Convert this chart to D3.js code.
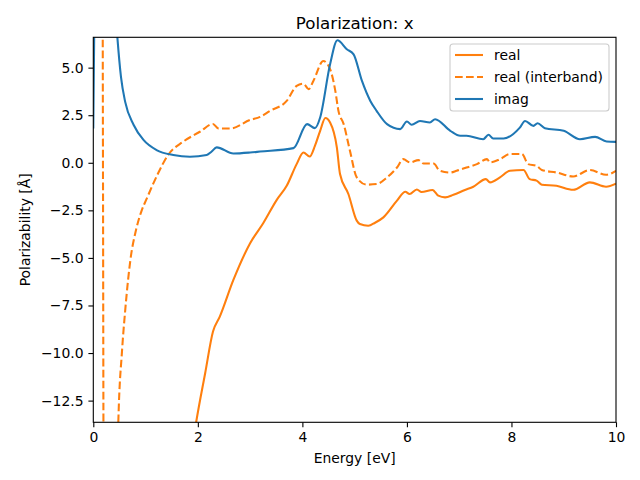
<!DOCTYPE html>
<html>
<head>
<meta charset="utf-8">
<script src="https://cdn.jsdelivr.net/npm/d3@7"></script>
<style>
  html, body { margin: 0; padding: 0; background: #fff; }
  svg { display: block; font-family: "DejaVu Sans", sans-serif; }
</style>
</head>
<body>
<svg id="chart" width="640" height="480"></svg>
<script>
// ---- data ----
const xTicks = [0, 2, 4, 6, 8, 10];
const yTicks = [-12.5, -10.0, -7.5, -5.0, -2.5, 0.0, 2.5, 5.0];
const seriesNames = ["real", "real (interband)", "imag"];

const realE = [1.5, 1.9, 1.97, 2.14, 2.29, 2.42, 2.68, 3.0, 3.25, 3.51, 3.70, 3.89, 4.02, 4.14, 4.24, 4.34, 4.44, 4.53, 4.66, 4.72, 4.88, 5.04, 5.10, 5.26, 5.39, 5.55, 5.81, 5.97, 6.05, 6.19, 6.28, 6.49, 6.60, 6.73, 6.89, 7.11, 7.27, 7.51, 7.59, 7.78, 7.97, 8.23, 8.35, 8.48, 8.58, 8.86, 9.18, 9.50, 9.81, 10.0];
const realV = [-25, -14.8, -13.6, -11.06, -8.87, -8.09, -6.16, -4.23, -3.18, -1.95, -1.21, -0.07, 0.54, 0.33, 0.89, 1.68, 2.35, 2.12, 0.8, -0.59, -1.64, -3.04, -3.22, -3.31, -3.15, -2.87, -1.99, -1.52, -1.64, -1.4, -1.54, -1.43, -1.73, -1.82, -1.68, -1.43, -1.26, -0.86, -1.03, -0.77, -0.42, -0.38, -0.86, -0.94, -1.15, -1.21, -1.42, -1.03, -1.26, -1.1];

const interE = [0.0, 0.17, 0.185, 0.2, 0.3, 0.45, 0.48, 0.55, 0.61, 0.71, 0.82, 0.92, 1.02, 1.24, 1.43, 1.72, 2.04, 2.29, 2.39, 2.62, 3.0, 3.19, 3.38, 3.70, 3.89, 4.02, 4.12, 4.21, 4.40, 4.53, 4.63, 4.69, 4.79, 4.91, 5.04, 5.23, 5.42, 5.62, 5.81, 5.93, 6.06, 6.22, 6.32, 6.51, 6.63, 6.83, 6.95, 7.14, 7.34, 7.53, 7.59, 7.78, 7.97, 8.20, 8.32, 8.48, 8.58, 8.86, 9.18, 9.50, 9.81, 10.0];
const interV = [40, 20, 0, -20, -40, -17, -13.5, -9.87, -7.77, -5.1, -3.5, -2.55, -1.9, -0.55, 0.41, 1.11, 1.63, 2.04, 1.81, 1.8, 2.25, 2.41, 2.73, 3.25, 4.04, 4.16, 3.87, 4.3, 5.35, 4.92, 3.78, 2.73, 2.03, 0.63, -0.77, -1.15, -1.12, -0.77, -0.25, 0.19, 0.02, 0.14, -0.04, -0.04, -0.42, -0.51, -0.42, -0.25, -0.07, 0.19, 0.02, 0.19, 0.46, 0.46, -0.07, -0.16, -0.38, -0.51, -0.72, -0.38, -0.63, -0.42];

const imagE = [0.0, 0.02, 0.1, 0.3, 0.46, 0.53, 0.61, 0.77, 0.96, 1.21, 1.53, 1.85, 2.17, 2.26, 2.36, 2.68, 3.0, 3.19, 3.83, 4.09, 4.24, 4.34, 4.53, 4.67, 4.85, 4.98, 5.14, 5.30, 5.42, 5.62, 5.87, 6.0, 6.09, 6.25, 6.44, 6.54, 6.83, 7.02, 7.14, 7.46, 7.56, 7.65, 7.85, 8.16, 8.26, 8.42, 8.50, 8.64, 9.0, 9.31, 9.60, 9.82, 10.0];
const imagV = [1.8, 7.5, 30, 14, 6.6, 4.5, 3.2, 2.0, 1.2, 0.67, 0.41, 0.32, 0.41, 0.58, 0.81, 0.49, 0.54, 0.59, 0.77, 2.03, 1.82, 2.38, 5.18, 6.44, 5.97, 5.7, 4.3, 3.25, 2.73, 2.03, 1.77, 2.17, 2.0, 2.2, 2.12, 2.29, 1.68, 1.42, 1.42, 1.24, 1.47, 1.28, 1.28, 1.85, 2.2, 1.94, 2.08, 1.82, 1.68, 1.24, 1.36, 1.12, 1.1];

const colors = ["#ff7f0e", "#ff7f0e", "#1f77b4"];
const dashes = [null, "7.7,3.3", null];

// ---- layout ----
const svg = d3.select("#chart");
const L = 93.3, R = 616, T = 37.3, B = 422.3;
const x = d3.scaleLinear().domain([0, 10]).range([L, R]);
const y = d3.scaleLinear().domain([-13.64, 6.595]).range([B, T]);

svg.append("defs").append("clipPath").attr("id", "clip")
  .append("rect").attr("x", L).attr("y", T).attr("width", R - L).attr("height", B - T);

const series = [
  realE.map((e, i) => [e, realV[i]]),
  interE.map((e, i) => [e, interV[i]]),
  imagE.map((e, i) => [e, imagV[i]])
];

const line = d3.line().x(d => x(d[0])).y(d => y(d[1])).curve(d3.curveMonotoneX);

const g = svg.append("g").attr("clip-path", "url(#clip)");
series.forEach((s, i) => {
  g.append("path").datum(s)
    .attr("d", line)
    .attr("fill", "none")
    .attr("stroke", colors[i])
    .attr("stroke-width", 2.08)
    .attr("stroke-linejoin", "round")
    .attr("stroke-dasharray", dashes[i]);
});

// axes
const xAxis = d3.axisBottom(x).tickValues(xTicks).tickFormat(d3.format("d")).tickSize(4.9).tickPadding(4.9);
const yAxis = d3.axisLeft(y).tickValues(yTicks).tickFormat(d => d3.format(".1f")(d).replace("-", "\u2212")).tickSize(4.9).tickPadding(4.9);

const gx = svg.append("g").attr("transform", `translate(0,${B})`).call(xAxis);
const gy = svg.append("g").attr("transform", `translate(${L},0)`).call(yAxis);
[gx, gy].forEach(a => {
  a.select(".domain").remove();
  a.selectAll(".tick line").attr("stroke", "#000").attr("stroke-width", 1.1);
  a.selectAll(".tick text").attr("fill", "#000").style("font-size", "13.9px").style("font-family", "DejaVu Sans");
});

// frame
svg.append("rect").attr("x", L).attr("y", T).attr("width", R - L).attr("height", B - T)
  .attr("fill", "none").attr("stroke", "#000").attr("stroke-width", 1.1);

// labels
svg.append("text").attr("x", (L + R) / 2).attr("y", 29).attr("text-anchor", "middle")
  .style("font-size", "16.7px").text("Polarization: x");
svg.append("text").attr("x", (L + R) / 2).attr("y", 463).attr("text-anchor", "middle")
  .style("font-size", "13.9px").text("Energy [eV]");
svg.append("text").attr("transform", `translate(30,${(T + B) / 2}) rotate(-90)`).attr("text-anchor", "middle")
  .style("font-size", "13.9px").text("Polarizability [Å]");

// legend
const lg = svg.append("g");
lg.append("rect").attr("x", 450).attr("y", 44).attr("width", 159).attr("height", 67).attr("rx", 3)
  .attr("fill", "#fff").attr("fill-opacity", 0.8).attr("stroke", "#ccc").attr("stroke-width", 1.1);
seriesNames.forEach((n, i) => {
  const yy = 55 + i * 22;
  lg.append("line").attr("x1", 455).attr("x2", 483).attr("y1", yy).attr("y2", yy)
    .attr("stroke", colors[i]).attr("stroke-width", 2.08).attr("stroke-dasharray", dashes[i]);
  lg.append("text").attr("x", 494).attr("y", yy + 5).style("font-size", "13.9px").text(n);
});
</script>
</body>
</html>
